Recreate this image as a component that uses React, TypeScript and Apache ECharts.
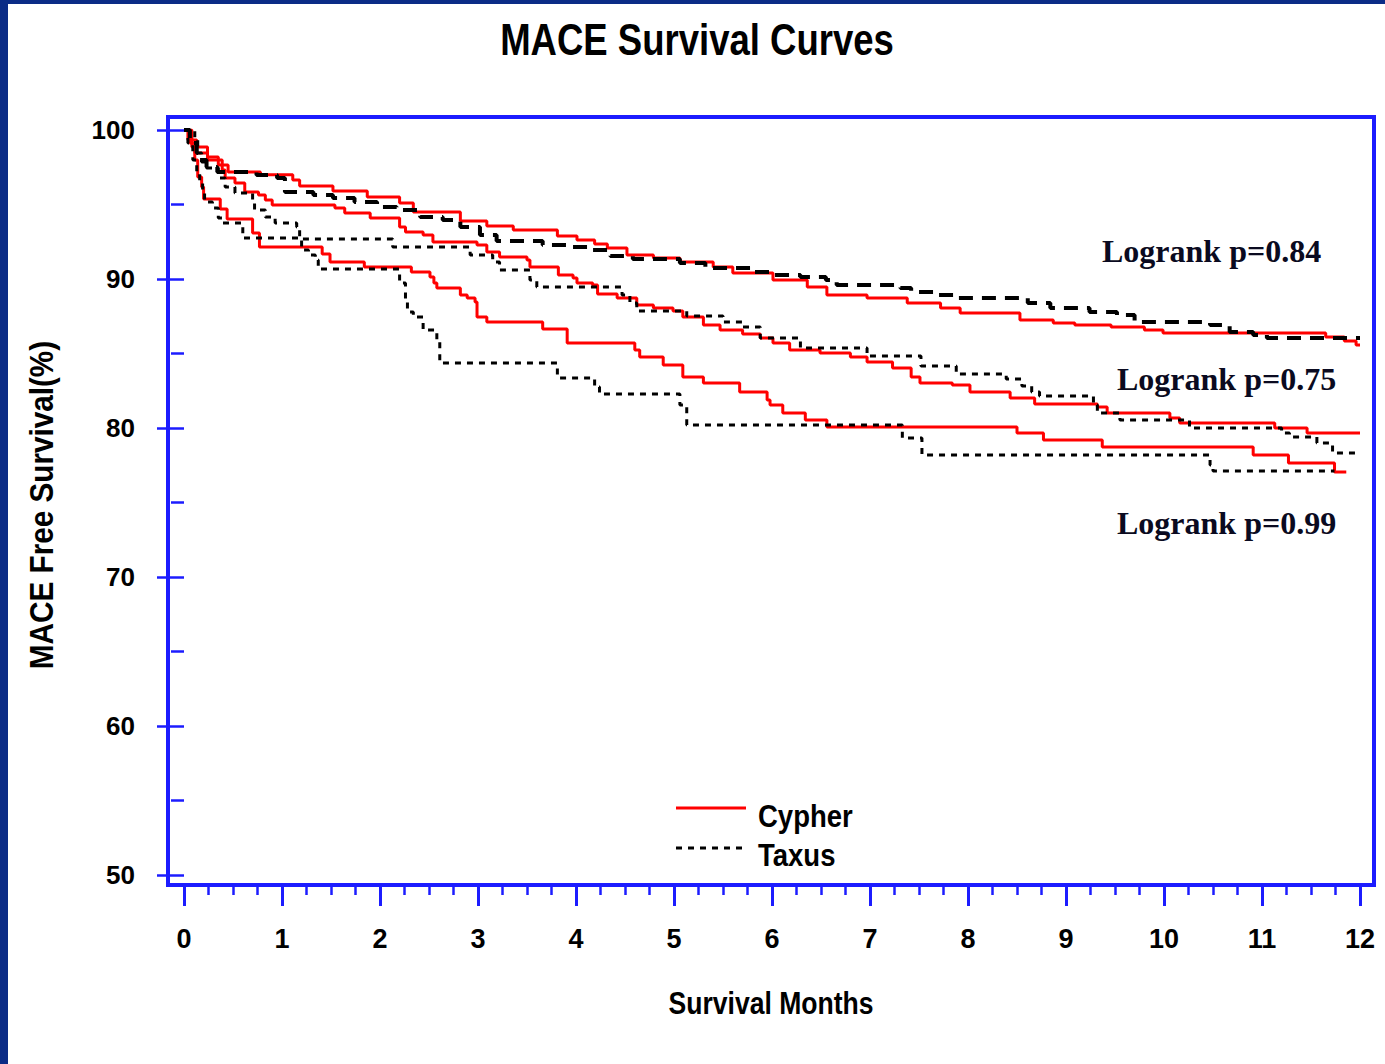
import React, { useEffect, useRef } from "react";
import * as echarts from "echarts";

// ---- data (month, survival %) ----
const xTickValues = [0, 1, 2, 3, 4, 5, 6, 7, 8, 9, 10, 11, 12];
const yTickValues = [50, 60, 70, 80, 90, 100];

const cypherTop: [number, number][] = [
  [0, 100], [0.04, 99.33], [0.13, 98.86], [0.24, 98.19], [0.35, 97.65], [0.45, 97.18],
  [0.78, 97.0], [1.11, 96.64], [1.18, 96.24], [1.52, 95.91], [1.87, 95.5], [2.2, 95.1], [2.34, 94.5],
  [2.82, 93.89], [3.09, 93.56], [3.36, 93.29], [3.81, 92.89], [4.01, 92.62], [4.19, 92.35],
  [4.32, 92.08], [4.52, 91.61], [4.79, 91.41], [5.06, 91.14], [5.4, 90.81], [5.6, 90.4],
  [6.01, 89.93], [6.36, 89.46], [6.56, 88.93], [6.97, 88.72], [7.38, 88.39], [7.72, 88.05],
  [7.92, 87.72], [8.53, 87.25], [8.87, 87.05], [9.09, 86.91], [9.46, 86.78], [9.8, 86.58],
  [9.99, 86.38], [11.65, 86.11], [11.84, 85.84], [11.96, 85.57], [12, 85.57],
];

const taxusTop: [number, number][] = [
  [0, 100], [0.06, 99.13], [0.13, 98.46], [0.16, 97.99], [0.23, 97.52], [0.34, 97.18],
  [0.74, 96.98], [0.95, 96.78], [1.03, 95.84], [1.32, 95.64], [1.52, 95.44], [1.74, 95.17],
  [1.97, 94.83], [2.17, 94.63], [2.41, 94.16], [2.64, 93.96], [2.82, 93.49], [3.02, 92.95],
  [3.19, 92.55], [3.66, 92.28], [3.91, 92.15], [4.14, 91.95], [4.35, 91.54], [4.58, 91.34],
  [5.06, 91.07], [5.32, 90.74], [5.81, 90.47], [6.03, 90.27], [6.29, 90.13], [6.55, 89.93],
  [6.66, 89.6], [7.31, 89.4], [7.42, 89.13], [7.68, 88.93], [7.9, 88.72], [8.61, 88.39],
  [8.84, 88.05], [9.24, 87.79], [9.52, 87.58], [9.7, 87.11], [10.47, 86.91], [10.67, 86.44],
  [10.91, 86.24], [11.05, 86.04], [12, 86.04],
];

const cypherMid: [number, number][] = [
  [0, 100], [0.06, 99.13], [0.11, 98.46], [0.24, 97.99], [0.39, 97.32], [0.42, 96.78],
  [0.52, 96.44], [0.62, 95.84], [0.76, 95.64], [0.83, 95.3], [0.9, 94.97], [1.54, 94.77],
  [1.64, 94.43], [1.9, 94.09], [2.2, 93.49], [2.26, 93.15], [2.44, 92.95], [2.54, 92.48],
  [2.99, 92.28], [3.09, 91.81], [3.22, 91.48], [3.5, 91.28], [3.53, 90.81], [3.82, 90.27],
  [3.97, 90.07], [4.01, 89.73], [4.17, 89.6], [4.22, 89.0], [4.42, 88.72], [4.62, 88.26],
  [4.79, 88.05], [4.99, 87.85], [5.09, 87.45], [5.3, 86.91], [5.47, 86.58], [5.7, 86.31],
  [5.88, 86.04], [6.01, 85.7], [6.18, 85.23], [6.49, 85.03], [6.8, 84.77], [6.97, 84.43],
  [7.23, 84.03], [7.42, 83.42], [7.51, 83.02], [7.84, 82.89], [8.02, 82.42], [8.43, 82.01],
  [8.68, 81.61], [9.32, 81.41], [9.42, 81.01], [10.06, 80.67], [10.16, 80.34], [11.13, 80.0],
  [11.46, 79.66], [12, 79.66],
];

const taxusMid: [number, number][] = [
  [0, 100], [0.11, 99.33], [0.14, 98.46], [0.18, 97.85], [0.23, 97.45], [0.35, 96.78],
  [0.42, 96.17], [0.52, 95.77], [0.7, 95.17], [0.72, 94.63], [0.83, 94.16], [0.93, 93.76],
  [1.15, 93.49], [1.18, 92.68], [2.13, 92.15], [2.92, 91.61], [3.15, 91.14], [3.22, 90.6],
  [3.53, 89.93], [3.6, 89.46], [4.47, 88.93], [4.55, 88.39], [4.62, 87.85], [5.13, 87.52],
  [5.5, 87.11], [5.7, 86.78], [5.88, 86.04], [6.29, 85.37], [6.97, 84.83], [7.52, 84.16],
  [7.88, 83.62], [8.39, 83.29], [8.55, 82.82], [8.65, 82.42], [8.73, 82.15], [9.28, 81.54],
  [9.32, 81.01], [9.55, 80.54], [10.26, 80.0], [11.2, 79.66], [11.28, 79.4], [11.56, 78.99],
  [11.72, 78.32], [12, 78.32],
];

const cypherLow: [number, number][] = [
  [0, 100], [0.08, 98.86], [0.11, 97.99], [0.14, 96.85], [0.18, 96.17], [0.2, 95.37],
  [0.37, 94.7], [0.44, 94.03], [0.7, 93.09], [0.77, 92.15], [1.41, 91.68], [1.49, 91.14],
  [1.84, 90.81], [2.32, 90.47], [2.51, 90.13], [2.55, 89.73], [2.58, 89.4], [2.82, 88.93],
  [2.89, 88.72], [2.97, 88.46], [2.99, 87.45], [3.09, 87.11], [3.66, 86.64], [3.91, 85.7],
  [4.6, 85.23], [4.65, 84.77], [4.89, 84.23], [5.09, 83.42], [5.3, 83.02], [5.67, 82.42],
  [5.95, 81.88], [5.98, 81.54], [6.11, 81.01], [6.34, 80.54], [6.56, 80.07], [8.5, 79.66],
  [8.77, 79.19], [9.37, 78.72], [10.91, 78.19], [11.27, 77.65], [11.74, 77.05], [11.86, 77.05],
];

const taxusLow: [number, number][] = [
  [0, 100], [0.04, 99.13], [0.09, 97.99], [0.13, 97.18], [0.16, 96.44], [0.19, 95.84],
  [0.21, 95.17], [0.29, 94.77], [0.35, 94.09], [0.39, 93.76], [0.6, 92.75], [1.2, 91.95],
  [1.27, 91.61], [1.34, 91.28], [1.37, 90.67], [2.2, 89.73], [2.26, 88.59], [2.28, 87.79],
  [2.34, 87.45], [2.44, 86.58], [2.58, 85.77], [2.61, 84.36], [3.81, 83.36], [4.19, 82.75],
  [4.24, 82.28], [5.06, 81.54], [5.13, 80.2], [7.33, 79.33], [7.53, 78.19], [10.47, 77.52],
  [10.5, 77.11], [11.74, 77.11],
];

const pLabels = ["Logrank p=0.84", "Logrank p=0.75", "Logrank p=0.99"];
const legendNames = ["Cypher", "Taxus"];

const SANS = "'Liberation Sans', Arial, sans-serif";
const SERIF = "'Liberation Serif', 'Times New Roman', serif";
const BLUE = "#1c1cff";
const RED = "#ff0000";

export default function App() {
  const ref = useRef<HTMLDivElement>(null);

  useEffect(() => {
    if (!ref.current) return;
    const chart = echarts.init(ref.current, undefined, { renderer: "svg" });

    const redLine = (name: string, data: [number, number][]) => ({
      type: "line",
      name,
      data,
      step: "end",
      symbol: "none",
      silent: true,
      z: 3,
      lineStyle: { color: RED, width: 3, cap: "butt" },
    });
    const blackLine = (name: string, data: [number, number][], width: number, dash: number[]) => ({
      type: "line",
      name,
      data,
      step: "end",
      symbol: "none",
      silent: true,
      z: 4,
      lineStyle: { color: "#000", width, type: dash, cap: "butt" },
    });

    const narrowText = (
      text: string,
      x: number,
      y: number,
      size: number,
      scaleX: number,
      align: string,
      rotation = 0
    ) => ({
      type: "text",
      x,
      y,
      rotation,
      scaleX,
      style: {
        text,
        fill: "#000",
        font: `bold ${size}px ${SANS}`,
        align,
        verticalAlign: "middle",
      },
    });

    chart.setOption({
      animation: false,
      backgroundColor: "#ffffff",
      grid: { left: 184, top: 130, width: 1176, height: 745, containLabel: false },
      xAxis: {
        type: "value",
        min: 0,
        max: 12,
        interval: 1,
        offset: 10,
        axisLine: { show: false },
        axisTick: { show: true, length: 21, lineStyle: { color: BLUE, width: 3 } },
        minorTick: { show: true, splitNumber: 4, length: 10, lineStyle: { color: BLUE, width: 2.5 } },
        splitLine: { show: false },
        minorSplitLine: { show: false },
        axisLabel: {
          margin: 40,
          color: "#000",
          fontSize: 27,
          fontWeight: "bold",
          fontFamily: SANS,
          formatter: (v: number) => (xTickValues.includes(v) ? String(v) : ""),
        },
      },
      yAxis: {
        type: "value",
        min: 50,
        max: 100,
        interval: 10,
        offset: 16,
        axisLine: { show: false },
        axisTick: { show: true, length: 27, lineStyle: { color: BLUE, width: 2.5 } },
        minorTick: { show: true, splitNumber: 2, length: 13, lineStyle: { color: BLUE, width: 2.5 } },
        splitLine: { show: false },
        minorSplitLine: { show: false },
        axisLabel: {
          margin: 33,
          color: "#000",
          fontSize: 26,
          fontWeight: "bold",
          fontFamily: SANS,
          formatter: (v: number) => (yTickValues.includes(v) ? String(v) : ""),
        },
      },
      series: [
        redLine("Cypher", cypherTop),
        redLine("Cypher", cypherMid),
        redLine("Cypher", cypherLow),
        blackLine("Taxus", taxusTop, 4, [14, 9]),
        blackLine("Taxus", taxusMid, 3, [6, 6]),
        blackLine("Taxus", taxusLow, 3, [6, 6]),
      ],
      graphic: [
        { type: "rect", shape: { x: 0, y: 0, width: 8, height: 1064 }, style: { fill: "#0b2c86" }, silent: true },
        { type: "rect", shape: { x: 0, y: 0, width: 1385, height: 4 }, style: { fill: "#0b2c86" }, silent: true },
        {
          type: "rect",
          shape: { x: 168, y: 117, width: 1206, height: 768 },
          style: { fill: "none", stroke: BLUE, lineWidth: 4 },
          silent: true,
          z: 10,
        },
        narrowText("MACE Survival Curves", 697, 40, 44, 0.83, "center"),
        narrowText("MACE Free Survival(%)", 42, 505, 33, 0.9, "center", Math.PI / 2),
        narrowText("Survival Months", 771, 1003, 32, 0.83, "center"),
        {
          type: "text",
          x: 1102,
          y: 251,
          style: { text: pLabels[0], fill: "#0a0a20", font: `bold 32px ${SERIF}`, align: "left", verticalAlign: "middle" },
        },
        {
          type: "text",
          x: 1117,
          y: 379,
          style: { text: pLabels[1], fill: "#0a0a20", font: `bold 32px ${SERIF}`, align: "left", verticalAlign: "middle" },
        },
        {
          type: "text",
          x: 1117,
          y: 523,
          style: { text: pLabels[2], fill: "#0a0a20", font: `bold 32px ${SERIF}`, align: "left", verticalAlign: "middle" },
        },
        {
          type: "line",
          shape: { x1: 676, y1: 808, x2: 746, y2: 808 },
          style: { stroke: RED, lineWidth: 3 },
        },
        {
          type: "line",
          shape: { x1: 676, y1: 848, x2: 746, y2: 848 },
          style: { stroke: "#000", lineWidth: 3, lineDash: [6, 6] },
        },
        narrowText(legendNames[0], 758, 816, 32, 0.86, "left"),
        narrowText(legendNames[1], 758, 855, 32, 0.86, "left"),
      ],
    });

    return () => chart.dispose();
  }, []);

  return (
    <div
      ref={ref}
      style={{ position: "absolute", left: 0, top: 0, width: 1385, height: 1064, background: "#fff" }}
    />
  );
}
